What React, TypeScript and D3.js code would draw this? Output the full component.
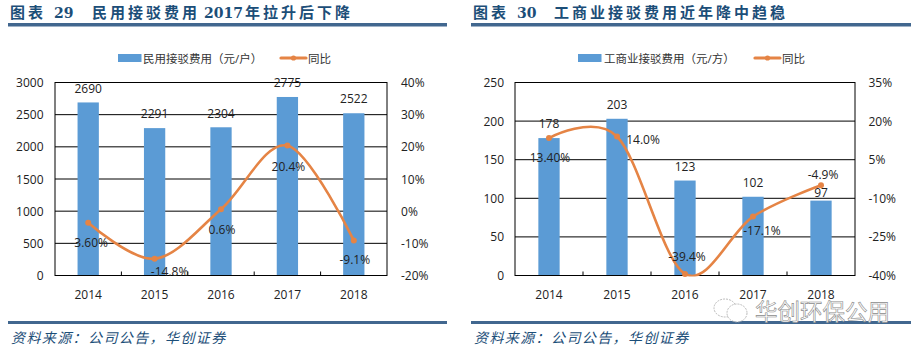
import React from "react";
import * as d3 from "d3";

const years = ["2014", "2015", "2016", "2017", "2018"];
const residentialFee = [2690, 2291, 2304, 2775, 2522];
const residentialYoY = [-3.6, -14.8, 0.6, 20.4, -9.1];
const residentialYoYLabels = ["-3.60%", "-14.8%", "0.6%", "20.4%", "-9.1%"];
const residentialLeftTicks = [0, 500, 1000, 1500, 2000, 2500, 3000];
const residentialRightTicks = [-20, -10, 0, 10, 20, 30, 40];

const industrialFee = [178, 203, 123, 102, 97];
const industrialYoY = [13.4, 14.0, -39.4, -17.1, -4.9];
const industrialYoYLabels = ["13.40%", "14.0%", "-39.4%", "-17.1%", "-4.9%"];
const industrialLeftTicks = [0, 50, 100, 150, 200, 250];
const industrialRightTicks = [-40, -25, -10, 5, 20, 35];

const BLUE = "#5b9bd5";
const ORANGE = "#e58445";
const NAVY = "#41678f";
const TITLE = "#1c4e78";
const SANS = "'Open Sans','Noto Sans CJK SC',sans-serif";
const CJK = "'Noto Sans CJK SC',sans-serif";
const SERIF = "'DejaVu Serif','Noto Sans CJK SC',serif";

type PanelProps = {
  x0: number; x1: number; ruleX0: number; ruleX1: number;
  fee: number[]; yoy: number[]; yoyLabels: string[];
  leftTicks: number[]; rightTicks: number[];
  titleParts: [string, number][]; legend: string;
  legendBarX: number; legendLineX: number; legendTextX: number; legendLineTextX: number;
  leftAxisX: number; rightAxisX: number;
  feeLabelDy: number[]; yoyLabelDy: number[]; yoyLabelDx: number[];
};

function Panel(p: PanelProps) {
  const top = 82.5, bottom = 275.5;
  const x = d3.scaleBand<string>().domain(years).range([p.x0, p.x1]);
  const yL = d3.scaleLinear().domain(d3.extent(p.leftTicks) as [number, number]).range([bottom, top]);
  const yR = d3.scaleLinear().domain(d3.extent(p.rightTicks) as [number, number]).range([bottom, top]);
  const cx = (y: string) => (x(y) as number) + x.bandwidth() / 2;
  const barW = 21.3;
  const line = d3.line<number>().x((_, i) => cx(years[i])).y((d) => yR(d)).curve(d3.curveCatmullRom.alpha(0));
  const clipId = `clip-${p.x0}`;
  return (
    <g>
      {p.titleParts.map(([t, tx], i) => {
        const latin = /^\d+$/.test(t);
        return (
          <text key={i} x={tx} y={17.5} fontFamily={latin ? SERIF : CJK} fontWeight={700} fontSize={latin ? 14 : 15}
            letterSpacing={latin ? 0 : 3} fill={TITLE}>{t}</text>
        );
      })}
      <rect x={p.ruleX0} y={23} width={p.ruleX1 - p.ruleX0} height={3.5} fill={NAVY} />

      <rect x={p.legendBarX} y={54} width={23.5} height={8} fill={BLUE} />
      <text x={p.legendTextX} y={62.5} fontFamily={SANS} fontSize={11.5} fill="#333">{p.legend}</text>
      <line x1={p.legendLineX} x2={p.legendLineX + 25} y1={58} y2={58} stroke={ORANGE} strokeWidth={3.2} strokeLinecap="round" />
      <circle cx={p.legendLineX + 12.5} cy={58} r={2.6} fill={ORANGE} />
      <text x={p.legendLineTextX} y={62.5} fontFamily={SANS} fontSize={11.5} fill="#333">同比</text>

      {p.leftTicks.map((t) => (
        <line key={t} x1={p.x0} x2={p.x1} y1={yL(t)} y2={yL(t)} stroke="#000" strokeWidth={1} />
      ))}
      {years.map((y, i) => (
        <rect key={y} x={cx(y) - barW / 2} y={yL(p.fee[i])} width={barW} height={bottom - yL(p.fee[i])} fill={BLUE} />
      ))}
      <rect x={p.x0} y={top} width={p.x1 - p.x0} height={bottom - top} fill="none" stroke="#000" strokeWidth={1} />
      {years.slice(1).map((y) => (
        <line key={y} x1={x(y)} x2={x(y)} y1={bottom - 4} y2={bottom} stroke="#000" strokeWidth={1} />
      ))}

      <clipPath id={clipId}><rect x={p.x0} y={top - 1} width={p.x1 - p.x0} height={bottom - top + 2} /></clipPath>
      <path d={line(p.yoy) as string} fill="none" stroke={ORANGE} strokeWidth={2.6} clipPath={`url(#${clipId})`} strokeLinecap="round" />
      {p.yoy.map((v, i) => (
        <circle key={i} cx={cx(years[i])} cy={yR(v)} r={3} fill={ORANGE} />
      ))}

      {years.map((y, i) => (
        <text key={y} x={cx(y)} y={yL(p.fee[i]) + p.feeLabelDy[i]} textAnchor="middle" fontFamily={SANS} fontSize={12} fill="#222">{p.fee[i]}</text>
      ))}
      {years.map((y, i) => (
        <text key={y} x={cx(y) + p.yoyLabelDx[i]} y={yR(p.yoy[i]) + p.yoyLabelDy[i]} textAnchor="middle" fontFamily={SANS} fontSize={12} fill="#222">{p.yoyLabels[i]}</text>
      ))}

      {p.leftTicks.map((t) => (
        <text key={t} x={p.leftAxisX} y={yL(t) + 4.5} textAnchor="end" fontFamily={SANS} fontSize={12} fill="#222">{t}</text>
      ))}
      {p.rightTicks.map((t) => (
        <text key={t} x={p.rightAxisX} y={yR(t) + 4.5} fontFamily={SANS} fontSize={12} fill="#222">{t}%</text>
      ))}
      {years.map((y) => (
        <text key={y} x={cx(y)} y={298.5} textAnchor="middle" fontFamily={SANS} fontSize={12} fill="#222">{y}</text>
      ))}

      <rect x={p.ruleX0} y={321} width={p.ruleX1 - p.ruleX0} height={3} fill={NAVY} />
      <text x={p.ruleX0 + 3} y={342.5} fontFamily={CJK} fontSize={14} fontStyle="italic" letterSpacing={1.4} fill={TITLE}>资料来源：公司公告，华创证券</text>
    </g>
  );
}

export default function App() {
  return (
    <svg width={921} height={352} style={{ position: "absolute", left: 0, top: 0, background: "#fff" }}>
      <Panel x0={55} x1={387} ruleX0={8} ruleX1={447}
        fee={residentialFee} yoy={residentialYoY} yoyLabels={residentialYoYLabels}
        leftTicks={residentialLeftTicks} rightTicks={residentialRightTicks}
        titleParts={[["图表", 10], ["29", 54], ["民用接驳费用", 92], ["2017", 204], ["年拉升后下降", 245]]}
        legend="民用接驳费用（元/户）" legendBarX={118} legendLineX={281} legendTextX={143} legendLineTextX={308}
        leftAxisX={43.5} rightAxisX={401}
        feeLabelDy={[-9, -10, -9, -10, -10.5]}
        yoyLabelDy={[24.5, 17.5, 25, 25, 24]} yoyLabelDx={[1, 15, 1, 1, 1]} />
      <Panel x0={515} x1={855} ruleX0={471} ruleX1={911}
        fee={industrialFee} yoy={industrialYoY} yoyLabels={industrialYoYLabels}
        leftTicks={industrialLeftTicks} rightTicks={industrialRightTicks}
        titleParts={[["图表", 473], ["30", 517], ["工商业接驳费用近年降中趋稳", 554]]}
        legend="工商业接驳费用（元/方）" legendBarX={578} legendLineX={755} legendTextX={604} legendLineTextX={782}
        leftAxisX={504} rightAxisX={868.5}
        feeLabelDy={[-10.5, -10, -10, -10, -4]}
        yoyLabelDy={[24, 7, -13, 18, -6.5]} yoyLabelDx={[1, 26, 2, 9, 2]} />
      <g>
        <ellipse cx={725} cy={308} rx={11} ry={9} fill="#fff" stroke="#aaa" strokeWidth={0.8} strokeDasharray="2 1" />
        <ellipse cx={737} cy={313} rx={10} ry={9} fill="#fff" stroke="#aaa" strokeWidth={0.8} strokeDasharray="2 1" />
        <text x={755} y={320} fontFamily={CJK} fontSize={22.5} fill="#fff" stroke="#8a8a8a" strokeWidth={0.6}>华创环保公用</text>
      </g>
    </svg>
  );
}
